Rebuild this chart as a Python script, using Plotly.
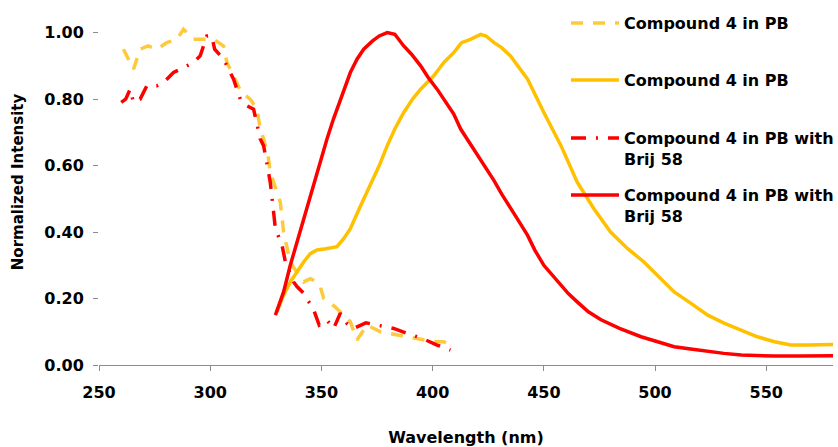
import plotly.graph_objects as go

# Excitation spectra (dashed / dash-dot)
ex_pb_wl = [261, 265.5, 268.5, 272, 276, 280.5, 285, 288, 292.5, 297, 301.5, 306, 307.5,
            310.5, 314, 318, 321, 322.5, 324, 326, 327, 331.5, 333, 335.3, 336.8, 342, 345,
            348, 349.5, 351, 356, 360, 363, 366, 370.5, 376.6, 384, 393, 400.6, 405, 408, 410]
ex_pb_int = [0.95, 0.89, 0.95, 0.96, 0.95, 0.97, 0.98, 1.01, 0.98, 0.98, 0.98, 0.96, 0.91,
             0.87, 0.82, 0.80, 0.77, 0.71, 0.68, 0.63, 0.58, 0.49, 0.40, 0.33, 0.30, 0.25, 0.26,
             0.25, 0.236, 0.20, 0.176, 0.15, 0.13, 0.075, 0.12, 0.10, 0.09, 0.08, 0.07, 0.07, 0.06, 0.06]

ex_brij_wl = [260, 262, 264, 265.5, 268.5, 271.5, 276, 279, 283.5, 289.5, 292.5, 295.5, 298.5,
              300.7, 302, 306, 309, 310.5, 313.5, 316.5, 319.5, 322.5, 324, 325.5, 327, 328.5,
              329.3, 332.3, 333.8, 337.5, 339, 342, 346.5, 349, 352.5, 355.5, 358.5, 361.5,
              364.5, 370, 378, 382.5, 388.6, 395.3, 402, 406, 408]
ex_brij_int = [0.79, 0.80, 0.83, 0.79, 0.80, 0.84, 0.84, 0.85, 0.88, 0.90, 0.91, 0.93, 0.99,
               0.99, 0.95, 0.92, 0.88, 0.86, 0.80, 0.78, 0.77, 0.68, 0.66, 0.60, 0.55, 0.46,
               0.41, 0.36, 0.31, 0.25, 0.236, 0.216, 0.166, 0.12, 0.135, 0.11, 0.156, 0.125,
               0.11, 0.127, 0.117, 0.11, 0.095, 0.08, 0.06, 0.05, 0.045]

# Emission spectra (solid)
em_pb_wl = [330, 333, 336, 339, 342, 345, 348, 352, 357, 360, 363, 367, 372, 376, 379.6, 383,
            387, 391, 394.6, 400.5, 405, 409.5, 413, 417, 421.6, 424, 427.6, 431, 435, 442.7,
            450, 457.7, 465, 472.5, 480, 487.7, 495, 501, 508.6, 516, 523.7, 531, 538.7, 546,
            553.7, 561, 568.7, 575, 580]
em_pb_int = [0.16, 0.21, 0.25, 0.28, 0.31, 0.335, 0.346, 0.35, 0.356, 0.38, 0.41, 0.47, 0.54,
             0.60, 0.66, 0.71, 0.76, 0.80, 0.83, 0.87, 0.91, 0.94, 0.97, 0.98, 0.995, 0.99,
             0.97, 0.955, 0.93, 0.86, 0.76, 0.66, 0.55, 0.47, 0.40, 0.35, 0.31, 0.27, 0.22,
             0.186, 0.15, 0.126, 0.105, 0.085, 0.07, 0.06, 0.06, 0.06, 0.062]

em_brij_wl = [329.3, 333, 336, 339, 342, 345.5, 349.5, 352.5, 355.4, 359, 363, 366, 369, 373,
              376, 379.6, 383, 387, 390.5, 394.6, 398, 402, 406, 409.5, 412.6, 417, 420, 424,
              427.6, 431, 435, 439, 442.7, 446, 450, 454, 457.7, 461, 465, 470, 475.7, 484,
              493.7, 501, 508.6, 516, 523.7, 531, 538.7, 546, 553.7, 565, 577.7, 580]
em_brij_int = [0.15, 0.22, 0.30, 0.37, 0.437, 0.52, 0.61, 0.68, 0.74, 0.81, 0.88, 0.92, 0.95,
               0.975, 0.99, 1.0, 0.995, 0.96, 0.935, 0.90, 0.865, 0.83, 0.79, 0.755, 0.71, 0.665,
               0.635, 0.595, 0.555, 0.515, 0.47, 0.43, 0.39, 0.345, 0.30, 0.27, 0.24, 0.215, 0.19,
               0.16, 0.136, 0.11, 0.085, 0.07, 0.055, 0.048, 0.04, 0.035, 0.03, 0.028, 0.027,
               0.027, 0.028, 0.028]

x_ticks = [250, 300, 350, 400, 450, 500, 550]
y_ticks = [0.0, 0.2, 0.4, 0.6, 0.8, 1.0]

label_pb = "Compound 4 in PB"
label_brij = "Compound 4 in PB with<br>Brij 58"

GOLD = "#FFC000"
GOLD_LIGHT = "#FFC93C"
RED = "#FF0000"
FONT = "DejaVu Sans"
W, H = 838, 447

fig = go.Figure()
fig.add_trace(go.Scatter(x=ex_pb_wl, y=ex_pb_int, mode="lines", name=label_pb,
                         legend="legend",
                         line=dict(color=GOLD_LIGHT, width=3.5, dash="12px,10px")))
fig.add_trace(go.Scatter(x=em_pb_wl, y=em_pb_int, mode="lines", name=label_pb,
                         legend="legend2",
                         line=dict(color=GOLD, width=3.5)))
fig.add_trace(go.Scatter(x=ex_brij_wl, y=ex_brij_int, mode="lines", name=label_brij,
                         legend="legend3",
                         line=dict(color=RED, width=3.5, dash="15px,10px,2px,10px")))
fig.add_trace(go.Scatter(x=em_brij_wl, y=em_brij_int, mode="lines", name=label_brij,
                         legend="legend4",
                         line=dict(color=RED, width=3.5)))


def legend_box(top_px):
    # one legend block per series, stacked down the right-hand side
    return dict(
        xref="container", yref="container",
        x=566 / W, y=1 - top_px / H, xanchor="left", yanchor="top",
        bgcolor="rgba(0,0,0,0)", borderwidth=0, valign="top",
        itemwidth=48,
        font=dict(family=FONT, size=16, color="black", weight="bold"),
    )


fig.update_layout(
    width=W, height=H,
    margin=dict(l=99, r=5, t=26, b=82, autoexpand=False),
    paper_bgcolor="white", plot_bgcolor="white",
    font=dict(family=FONT, size=16, color="black", weight="bold"),
    showlegend=True,
    legend=legend_box(6),
    legend2=legend_box(63),
    legend3=legend_box(121),
    legend4=legend_box(178),
    annotations=[dict(
        text="Normalized Intensity", textangle=-90,
        xref="paper", yref="paper", x=-0.11, y=0.54,
        xanchor="center", yanchor="middle", showarrow=False,
        font=dict(family=FONT, size=15, color="black", weight="bold"),
    )],
)

fig.update_xaxes(
    range=[250, 580], tickvals=x_ticks,
    showline=True, linecolor="#8c8c8c", linewidth=1,
    ticks="outside", ticklen=5, tickcolor="#8c8c8c",
    showgrid=False, zeroline=False,
    ticklabelstandoff=8,
    title=dict(text="Wavelength (nm)", standoff=30,
               font=dict(family=FONT, size=16, color="black", weight="bold")),
    automargin=False,
)
fig.update_yaxes(
    range=[0, 1.02], tickvals=y_ticks, tickformat=".2f",
    showline=False, ticks="outside", ticklen=5, tickcolor="#8c8c8c",
    showgrid=False, zeroline=False,
    ticklabelstandoff=6,
    automargin=False,
)

fig.write_html("out.html")
